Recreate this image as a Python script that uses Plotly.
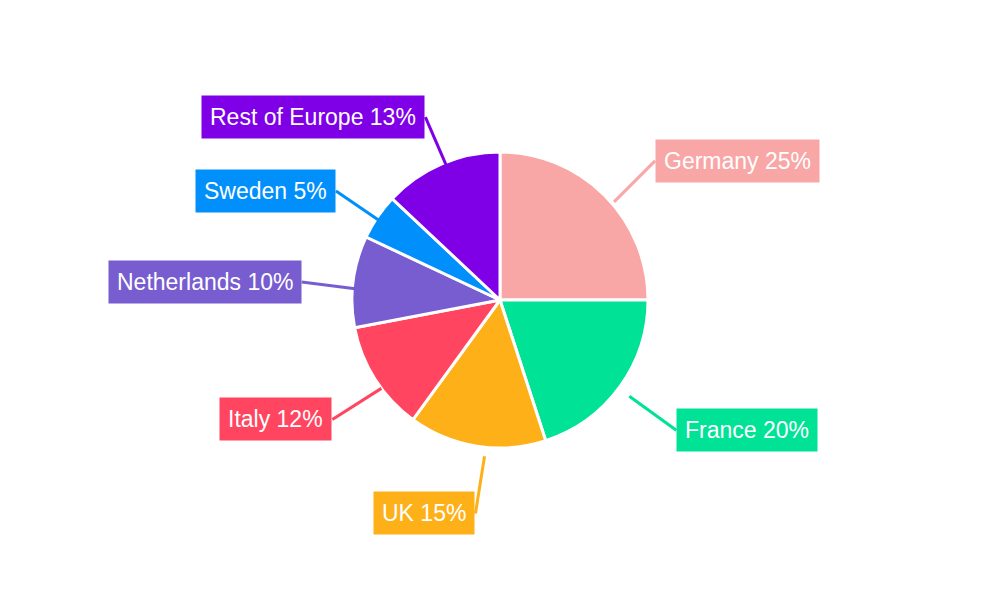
import math
import plotly.graph_objects as go

countries = ["Germany", "France", "UK", "Italy", "Netherlands", "Sweden", "Rest of Europe"]
shares = [25, 20, 15, 12, 10, 5, 13]
colors = ["#f9a6a6", "#00e396", "#feb019", "#ff4560", "#775dd0", "#008ffb", "#7f00e6"]

W, H = 1000, 600
cx, cy, R = 500, 300, 148
dx, dy = -8, -8  # compensation for plotly pie placement

fig = go.Figure(go.Pie(
    labels=countries, values=shares, sort=False, direction="clockwise", rotation=0,
    marker=dict(colors=colors, line=dict(color="white", width=3)),
    textinfo="none", hoverinfo="label+percent", showlegend=False,
    domain=dict(x=[(cx + dx - R) / W, (cx + dx + R) / W],
                y=[1 - (cy + dy + R) / H, 1 - (cy + dy - R) / H]),
))

total = sum(shares)
acc = 0
shapes, annots = [], []
for name, v, c in zip(countries, shares, colors):
    mid = (acc + v / 2) / total * 2 * math.pi
    acc += v
    s, co = math.sin(mid), math.cos(mid)
    x0, y0 = cx + (R + 2) * s, cy - (R + 2) * co
    x1, y1 = cx + 208 * s, cy - 208 * co
    shapes.append(dict(type="line", xref="paper", yref="paper",
                       x0=x0 / W, y0=1 - y0 / H, x1=x1 / W, y1=1 - y1 / H,
                       line=dict(color=c, width=3)))
    right = s >= 0
    annots.append(dict(xref="paper", yref="paper", x=x1 / W, y=1 - y1 / H,
                       xanchor="left" if right else "right", yanchor="middle",
                       text=f"{name} {round(v / total * 100)}%", showarrow=False,
                       bgcolor=c, borderpad=8,
                       font=dict(family="Liberation Sans, Arial", size=23, color="white")))

fig.update_layout(width=W, height=H, margin=dict(l=0, r=0, t=0, b=0),
                  paper_bgcolor="white", plot_bgcolor="white",
                  shapes=shapes, annotations=annots)
fig.write_html("out.html")
